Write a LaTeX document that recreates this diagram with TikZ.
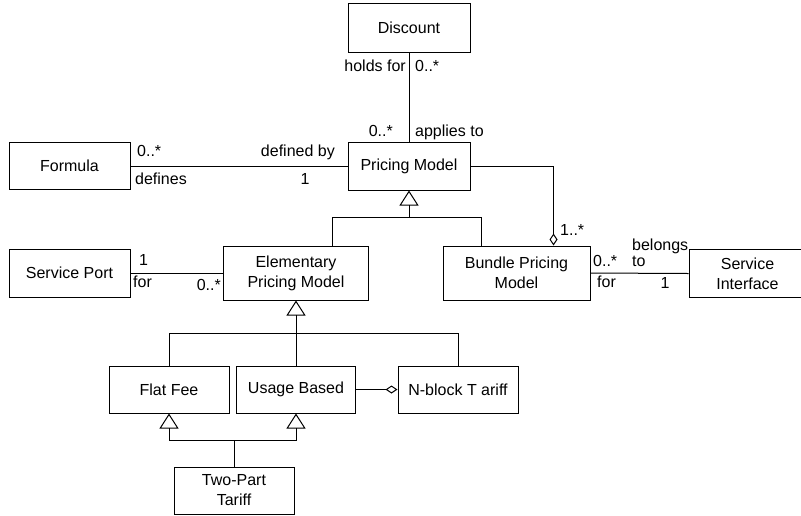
\documentclass[tikz,border=0pt]{standalone}
\usepackage{fontspec}
\setmainfont{Liberation Sans}
\usetikzlibrary{arrows.meta,calc}
\begin{document}
\begin{tikzpicture}[x=1pt,y=-1pt,
  every node/.style={font=\fontsize{16}{20}\selectfont},
  cls/.style={draw, line width=1pt, fill=white, align=center, inner sep=0pt},
  lbl/.style={inner sep=0pt},
  link/.style={line width=1pt},
  gen/.style={link, -{Triangle[open, length=15pt, width=19pt, line width=1pt]}},
  agg/.style={link, -{Diamond[open, length=12pt, width=8pt, line width=1pt]}},
]
\useasboundingbox (0,0) rectangle (801,515);
\fill[white] (0,0) rectangle (801,515);

% classes
\node[cls, minimum width=122pt, minimum height=49pt] (disc)    at (409,27.5)  {Discount};
\node[cls, minimum width=122pt, minimum height=48pt] (pm)      at (409,166)   {Pricing Model};
\node[cls, minimum width=121pt, minimum height=47pt] (formula) at (69.5,166)  {Formula};
\node[cls, minimum width=121pt, minimum height=48pt] (sport)   at (69.5,273)  {Service Port};
\node[cls, minimum width=145pt, minimum height=54pt] (epm)     at (296,273)   {Elementary\\Pricing Model};
\node[cls, minimum width=147pt, minimum height=54pt] (bpm)     at (516.5,273) {Bundle Pricing\\Model};
\node[cls, minimum width=117pt, minimum height=48pt] (sif)     at (747.5,273.5) {Service\\Interface};
\node[cls, minimum width=120pt, minimum height=47pt] (flat)    at (169,389.5) {Flat Fee};
\node[cls, minimum width=119pt, minimum height=47pt] (usage)   at (296,389.5) {Usage Based};
\node[cls, minimum width=120pt, minimum height=47pt] (nblock)  at (458,389.5) {N-block T ariff};
\node[cls, minimum width=120pt, minimum height=47pt] (two)     at (234,490.5) {Two-Part\\Tariff};

% associations
\draw[link] (disc.south) -- (pm.north);
\draw[link] (formula.east) -- (pm.west);
\draw[link] (sport.east) -- (epm.west);
\draw[link] (bpm.east) -- (sif.west);

% aggregations
\coordinate (aggEnd) at ($(bpm.north east)!0.25!(bpm.north west)$);
\draw[agg] (pm.east) -| (aggEnd);
\draw[agg] (usage.east) -- (nblock.west);

% generalisation: pricing models
\coordinate (g1) at ($(pm.south)+(0,27)$);
\draw[link] ([xshift=36pt]epm.north) |- (g1) -| ([xshift=-35.5pt]bpm.north);
\draw[gen] (g1) -- (pm.south);

% generalisation: elementary models
\coordinate (g2) at ($(epm.south)+(0,33)$);
\draw[link] (flat.north) |- (g2) -| (nblock.north);
\draw[link] (usage.north) -- (g2);
\draw[gen] (g2) -- (epm.south);

% generalisation: two-part tariff
\coordinate (g3) at ($(two.north)+(0,-26)$);
\draw[link] (two.north) -- (g3);
\draw[gen] (g3) -| (flat.south);
\draw[gen] (g3) -| (usage.south);

% role names and multiplicities
\node[lbl, anchor=mid east] at (406,69)  {holds for};
\node[lbl, anchor=mid west] at (415,69)  {0..*};
\node[lbl, anchor=mid east] at (393,134) {0..*};
\node[lbl, anchor=mid west] at (415,134) {applies to};
\node[lbl, anchor=mid west] at (137,154) {0..*};
\node[lbl, anchor=mid east] at (335,154) {defined by};
\node[lbl, anchor=mid west] at (135,182) {defines};
\node[lbl, anchor=mid]      at (305,182) {1};
\node[lbl, anchor=mid west] at (139,263) {1};
\node[lbl, anchor=mid west] at (133,285) {for};
\node[lbl, anchor=mid east] at (221,288) {0..*};
\node[lbl, anchor=mid west] at (560,233) {1..*};
\node[lbl, anchor=mid west] at (593,264) {0..*};
\node[lbl, anchor=mid west] at (632,248) {belongs};
\node[lbl, anchor=mid west] at (632,264) {to};
\node[lbl, anchor=mid west] at (597,285) {for};
\node[lbl, anchor=mid]      at (665,286) {1};
\end{tikzpicture}
\end{document}
